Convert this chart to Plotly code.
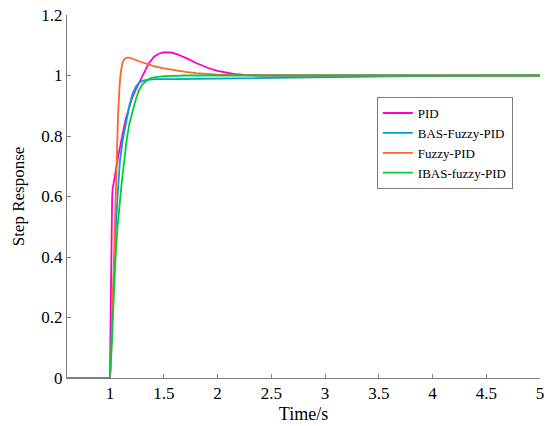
import plotly.graph_objects as go

# step response curves
t_pid = [0.6, 1.0, 1.004, 1.008, 1.012, 1.016, 1.02, 1.025, 1.035, 1.05, 1.065, 1.08,
         1.1, 1.125, 1.15, 1.175, 1.2, 1.235, 1.27, 1.31, 1.36, 1.41, 1.45, 1.49, 1.53,
         1.57, 1.62, 1.67, 1.73, 1.79, 1.85, 1.92, 2.0, 2.08, 2.15, 2.25, 2.4, 2.6,
         3.0, 4.0, 5.0]
y_pid = [0, 0, 0.15, 0.33, 0.48, 0.56, 0.6, 0.625, 0.65, 0.68, 0.71, 0.74,
         0.78, 0.82, 0.86, 0.895, 0.92, 0.95, 0.975, 1.005, 1.04, 1.062, 1.071, 1.076, 1.077,
         1.076, 1.071, 1.064, 1.054, 1.043, 1.034, 1.024, 1.015, 1.009, 1.005, 1.002, 1.0, 1.0,
         1.0, 1.0, 1.0]

t_bas = [0.6, 1.0, 1.015, 1.03, 1.05, 1.07, 1.093, 1.12, 1.15, 1.18, 1.21, 1.24,
         1.27, 1.3, 1.33, 1.37, 1.42, 1.6, 2.0, 2.5, 3.0, 3.5, 4.0, 5.0]
y_bas = [0, 0, 0.15, 0.3, 0.47, 0.6, 0.72, 0.79, 0.85, 0.9, 0.94, 0.963,
         0.975, 0.982, 0.985, 0.987, 0.988, 0.988, 0.99, 0.993, 0.996, 0.998, 0.999, 1.0]

t_fuzzy = [0.6, 1.0, 1.015, 1.03, 1.045, 1.06, 1.075, 1.09, 1.1, 1.115, 1.13, 1.145,
           1.16, 1.18, 1.2, 1.23, 1.27, 1.33, 1.4, 1.49, 1.6, 1.7, 1.8, 1.9, 2.0,
           2.15, 2.3, 2.6, 3.0, 5.0]
y_fuzzy = [0, 0, 0.12, 0.32, 0.52, 0.72, 0.87, 0.97, 1.01, 1.04, 1.052, 1.057,
           1.059, 1.059, 1.057, 1.053, 1.047, 1.04, 1.032, 1.024, 1.017, 1.012, 1.008, 1.005, 1.003,
           1.001, 1.0, 1.0, 1.0, 1.0]

t_ibas = [0.6, 1.0, 1.015, 1.03, 1.05, 1.07, 1.09, 1.11, 1.133, 1.155, 1.18, 1.2,
          1.235, 1.27, 1.3, 1.33, 1.36, 1.395, 1.45, 1.5, 1.6, 1.7, 2.0, 3.0, 5.0]
y_ibas = [0, 0, 0.1, 0.24, 0.39, 0.5, 0.58, 0.65, 0.72, 0.787, 0.84, 0.87,
          0.915, 0.952, 0.97, 0.98, 0.988, 0.993, 0.996, 0.998, 0.999, 1.0, 1.0, 1.0, 1.0]

x_ticks = [1, 1.5, 2, 2.5, 3, 3.5, 4, 4.5, 5]
y_ticks = [0, 0.2, 0.4, 0.6, 0.8, 1, 1.2]
y_labels = ["0", "0.2", "0.4", "0.6", "0.8", "1", "1.2"]

font = "Liberation Serif, Times New Roman, serif"
axis_grey = "rgb(125,125,125)"

fig = go.Figure()
fig.add_trace(go.Scatter(x=t_pid, y=y_pid, name="PID", mode="lines",
                         line=dict(color="rgb(255,0,200)", width=1.8)))
fig.add_trace(go.Scatter(x=t_bas, y=y_bas, name="BAS-Fuzzy-PID", mode="lines",
                         line=dict(color="rgb(0,160,215)", width=1.8)))
fig.add_trace(go.Scatter(x=t_fuzzy, y=y_fuzzy, name="Fuzzy-PID", mode="lines",
                         line=dict(color="rgb(255,100,40)", width=1.8)))
fig.add_trace(go.Scatter(x=t_ibas, y=y_ibas, name="IBAS-fuzzy-PID", mode="lines",
                         line=dict(color="rgb(0,205,60)", width=1.8)))

fig.update_layout(
    width=550, height=426,
    margin=dict(l=67, r=10, t=15, b=48),
    paper_bgcolor="white", plot_bgcolor="white",
    font=dict(family=font, size=17, color="black"),
    showlegend=True,
    legend=dict(x=0.655, y=0.774, xanchor="left", yanchor="top",
                bordercolor=axis_grey, borderwidth=1, bgcolor="white",
                font=dict(family=font, size=13), tracegroupgap=0,
                itemwidth=30),
)
fig.update_xaxes(range=[0.6, 5], tickvals=x_ticks, ticktext=[str(v) for v in x_ticks],
                 ticks="inside", ticklen=4, tickcolor=axis_grey,
                 showline=True, linecolor=axis_grey, linewidth=1,
                 showgrid=False, zeroline=False, automargin=False,
                 title=dict(text="Time/s", standoff=4, font=dict(family=font, size=18)))
fig.update_yaxes(range=[0, 1.2], tickvals=y_ticks, ticktext=y_labels,
                 ticks="inside", ticklen=4, tickcolor=axis_grey,
                 showline=True, linecolor=axis_grey, linewidth=1,
                 showgrid=False, zeroline=False, automargin=False,
                 title=dict(text="Step Response", standoff=12, font=dict(family=font, size=17)))

# drop the browser's default body margin so the figure sits at the page corner
fig.write_html("out.html", config={"displayModeBar": False},
               post_script="document.body.style.margin='0';")
